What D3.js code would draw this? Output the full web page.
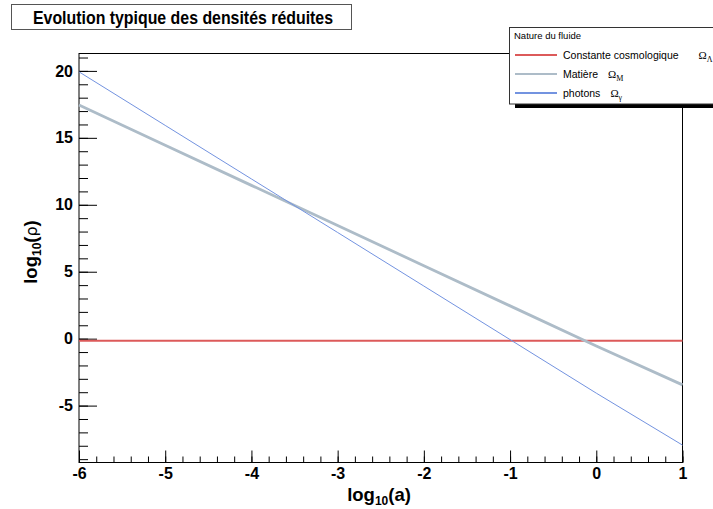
<!DOCTYPE html>
<html lang="fr">
<head>
<meta charset="UTF-8">
<title>Evolution typique des densités réduites</title>
<script src="https://d3js.org/d3.v7.min.js"></script>
<style>
    body { margin: 0; background: #fff; }
    svg { display: block; font-family: "Liberation Sans", Arial, sans-serif; }
    .axis path { display: none; }
    .axis line { stroke: #000; stroke-width: 1; }
    .axis text { font-size: 16px; font-weight: bold; fill: #000; font-family: "Liberation Sans", Arial, sans-serif; }
    .minor text { display: none; }
</style>
</head>
<body>
<svg width="713" height="509"></svg>
<script>
    // log10(a) sample points
    const logA = [-6, -5, -4, -3, -2, -1, 0, 1];

    // log10(rho) for each fluid
    const lambdaVals = [-0.15, -0.15, -0.15, -0.15, -0.15, -0.15, -0.15, -0.15];
    const matterVals = [17.45, 14.45, 11.45, 8.45, 5.45, 2.45, -0.55, -3.45];
    const photonVals = [19.93, 15.93, 11.93, 7.93, 3.93, -0.07, -4.07, -7.95];

    const xTicks = [-6, -5, -4, -3, -2, -1, 0, 1];
    const yTicks = [-5, 0, 5, 10, 15, 20];

    const series = [
        {name: "Constante cosmologique", sub: "\u039B", vals: lambdaVals, color: "#dc5a5a", width: 2},
        {name: "Matière", sub: "M", vals: matterVals, color: "#adbcc8", width: 2.8},
        {name: "photons", sub: "\u03B3", vals: photonVals, color: "#7393e0", width: 1}
    ];

    const frame = {left: 79, right: 682.5, top: 53.5, bottom: 462.5};

    const svg = d3.select("svg");

    const x = d3.scaleLinear().domain([-6, 1]).range([frame.left, frame.right]);
    const y = d3.scaleLinear().domain([-9.25, 21.3]).range([frame.bottom, frame.top]);

    // frame
    svg.append("rect")
        .attr("x", frame.left).attr("y", frame.top)
        .attr("width", frame.right - frame.left).attr("height", frame.bottom - frame.top)
        .attr("fill", "none").attr("stroke", "#000");

    // x axis (ticks inside the frame)
    const xMinor = d3.range(-6, 1.001, 0.2).map(v => +v.toFixed(1));
    svg.append("g").attr("class", "axis minor")
        .attr("transform", `translate(0,${frame.bottom})`)
        .call(d3.axisBottom(x).tickValues(xMinor).tickSize(-6));
    svg.append("g").attr("class", "axis")
        .attr("transform", `translate(0,${frame.bottom})`)
        .call(d3.axisBottom(x).tickValues(xTicks).tickSize(-12).tickPadding(5).tickFormat(d => String(d)));

    // y axis
    const yMinor = d3.range(-9, 21.001, 1);
    svg.append("g").attr("class", "axis minor")
        .attr("transform", `translate(${frame.left},0)`)
        .call(d3.axisLeft(y).tickValues(yMinor).tickSize(-9));
    svg.append("g").attr("class", "axis")
        .attr("transform", `translate(${frame.left},0)`)
        .call(d3.axisLeft(y).tickValues(yTicks).tickSize(-18).tickPadding(6).tickFormat(d => String(d)));

    // curves
    const line = d3.line().x((d, i) => x(logA[i])).y(d => y(d));
    series.forEach(s => {
        svg.append("path")
            .datum(s.vals)
            .attr("d", line)
            .attr("fill", "none")
            .attr("stroke", s.color)
            .attr("stroke-width", s.width);
    });

    // axis titles
    const xt = svg.append("text")
        .attr("x", 379).attr("y", 501)
        .attr("text-anchor", "middle")
        .style("font-size", "18.5px").style("font-weight", "bold");
    xt.append("tspan").text("log");
    xt.append("tspan").attr("dy", 4).style("font-size", "12px").text("10");
    xt.append("tspan").attr("dy", -4).text("(a)");

    const yt = svg.append("text")
        .attr("transform", "translate(37,252) rotate(-90)")
        .attr("text-anchor", "middle")
        .style("font-size", "18.5px").style("font-weight", "bold");
    yt.append("tspan").text("log");
    yt.append("tspan").attr("dy", 4).style("font-size", "12px").text("10");
    yt.append("tspan").attr("dy", -4).text("(");
    yt.append("tspan").style("font-weight", "normal").style("font-family", "'DejaVu Sans', sans-serif").style("font-size", "16px").text("\u03C1");
    yt.append("tspan").text(")");

    // title box
    svg.append("rect")
        .attr("x", 11.5).attr("y", 4.5).attr("width", 340).attr("height", 25)
        .attr("fill", "#fff").attr("stroke", "#555");
    svg.append("text")
        .attr("x", 33).attr("y", 23.5)
        .attr("textLength", 300).attr("lengthAdjust", "spacingAndGlyphs")
        .style("font-size", "17.5px").style("font-weight", "bold")
        .text("Evolution typique des densités réduites");

    // legend
    const lg = svg.append("g");
    lg.append("rect")
        .attr("x", 515).attr("y", 31).attr("width", 240).attr("height", 77)
        .attr("fill", "#000");
    lg.append("rect")
        .attr("x", 509.5).attr("y", 27.5).attr("width", 240).attr("height", 76.5)
        .attr("fill", "#fff").attr("stroke", "#333");
    lg.append("text")
        .attr("x", 514).attr("y", 39)
        .style("font-size", "9.5px")
        .text("Nature du fluide");

    const gap = [20, 10, 10];
    series.forEach((s, i) => {
        const ly = 55 + i * 19;
        lg.append("line")
            .attr("x1", 515).attr("x2", 557)
            .attr("y1", ly).attr("y2", ly)
            .attr("stroke", s.color).attr("stroke-width", 2);
        const t = lg.append("text")
            .attr("x", 563).attr("y", ly + 4)
            .style("font-size", "10.5px");
        t.append("tspan").text(s.name);
        t.append("tspan").attr("dx", gap[i])
            .style("font-family", "'Liberation Serif', serif").style("font-size", "11px")
            .text("\u03A9");
        t.append("tspan").attr("dy", 3)
            .style("font-family", "'Liberation Serif', serif").style("font-size", "8px")
            .text(s.sub);
    });
</script>
</body>
</html>
